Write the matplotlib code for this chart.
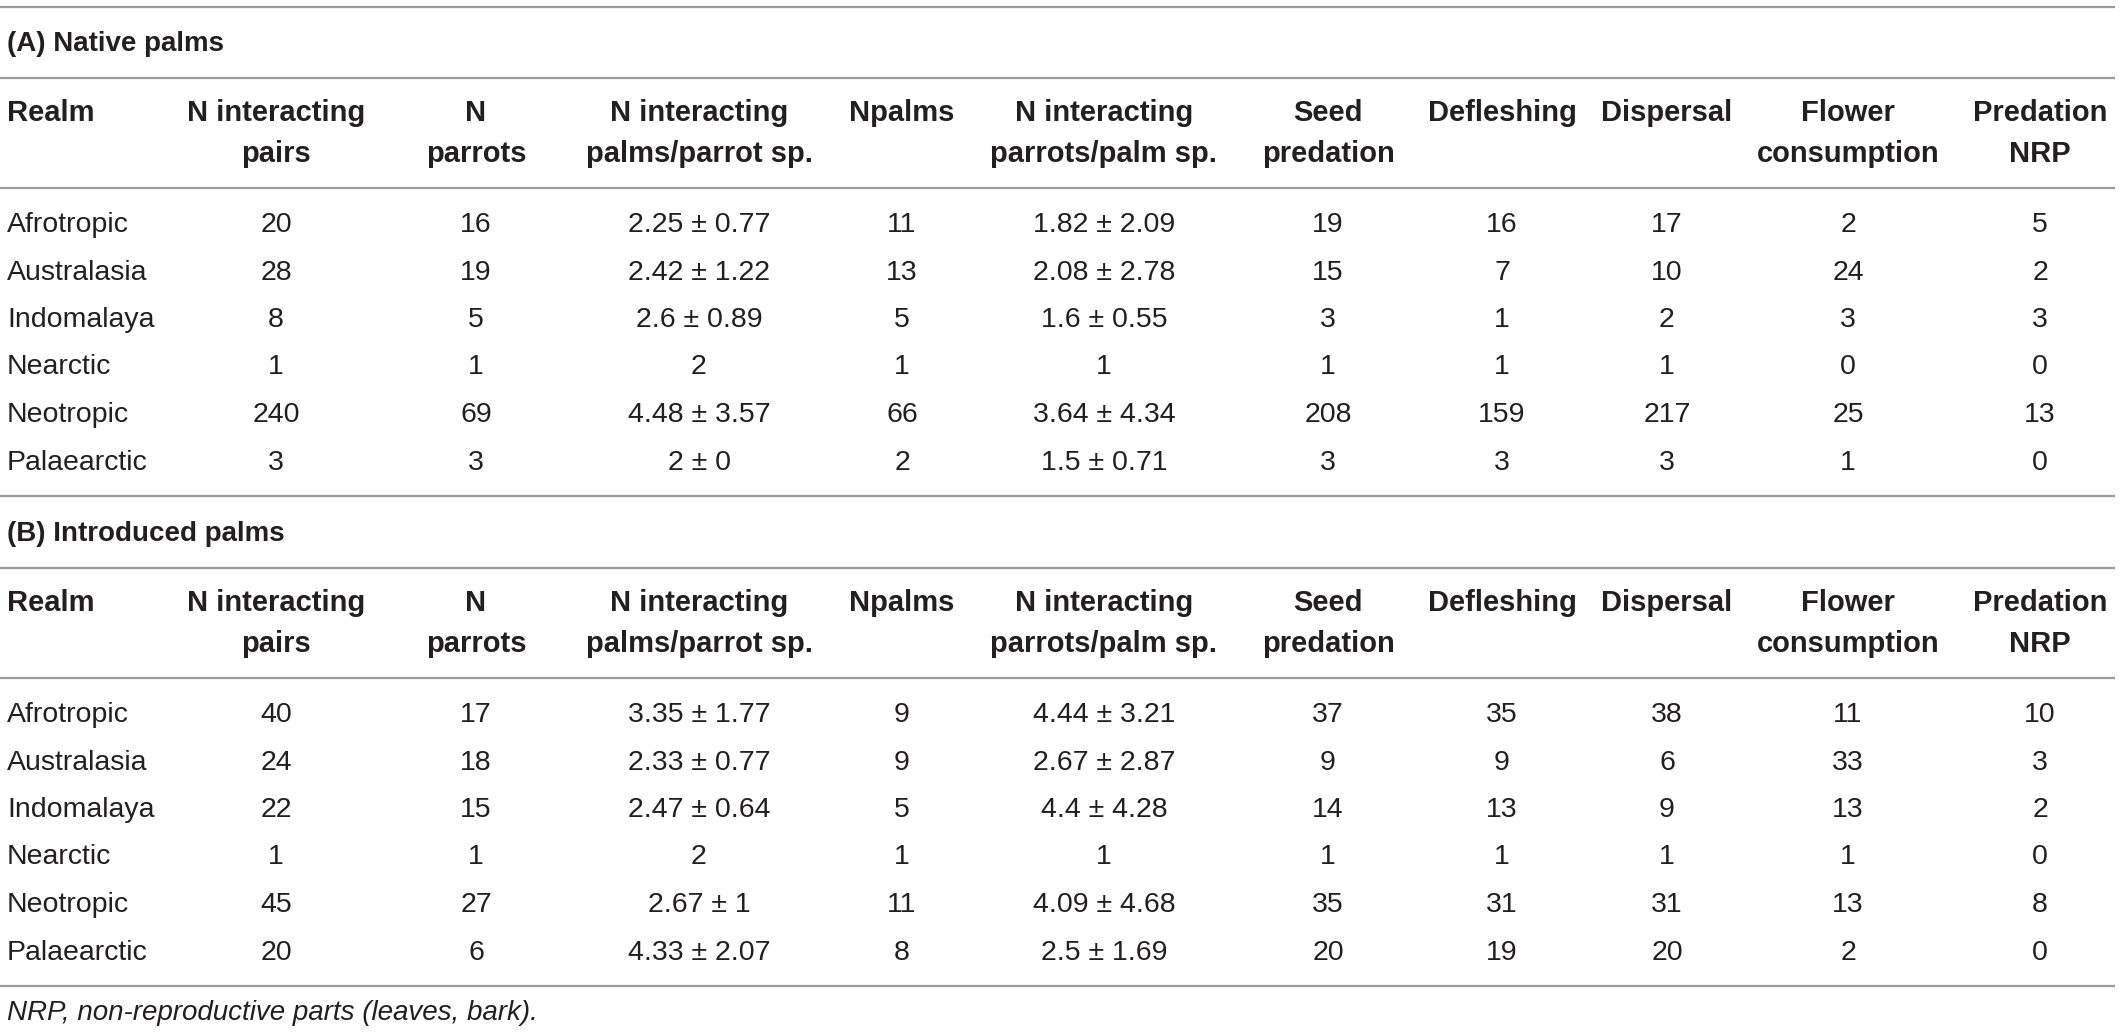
import matplotlib
matplotlib.use('Agg')
import matplotlib.pyplot as plt

plt.rcParams['font.family'] = ['Liberation Sans', 'DejaVu Sans']

# Table content
realms = ['Afrotropic', 'Australasia', 'Indomalaya', 'Nearctic', 'Neotropic', 'Palaearctic']
headers = [
    ['Realm'],
    ['N interacting', 'pairs'],
    ['N', 'parrots'],
    ['N interacting', 'palms/parrot sp.'],
    ['Npalms'],
    ['N interacting', 'parrots/palm sp.'],
    ['Seed', 'predation'],
    ['Defleshing'],
    ['Dispersal'],
    ['Flower', 'consumption'],
    ['Predation', 'NRP'],
]

native_pairs = [20, 28, 8, 1, 240, 3]
native_parrots = [16, 19, 5, 1, 69, 3]
native_palms_per_parrot = ['2.25 ± 0.77', '2.42 ± 1.22', '2.6 ± 0.89', '2', '4.48 ± 3.57', '2 ± 0']
native_npalms = [11, 13, 5, 1, 66, 2]
native_parrots_per_palm = ['1.82 ± 2.09', '2.08 ± 2.78', '1.6 ± 0.55', '1', '3.64 ± 4.34', '1.5 ± 0.71']
native_seed = [19, 15, 3, 1, 208, 3]
native_deflesh = [16, 7, 1, 1, 159, 3]
native_dispersal = [17, 10, 2, 1, 217, 3]
native_flower = [2, 24, 3, 0, 25, 1]
native_nrp = [5, 2, 3, 0, 13, 0]

intro_pairs = [40, 24, 22, 1, 45, 20]
intro_parrots = [17, 18, 15, 1, 27, 6]
intro_palms_per_parrot = ['3.35 ± 1.77', '2.33 ± 0.77', '2.47 ± 0.64', '2', '2.67 ± 1', '4.33 ± 2.07']
intro_npalms = [9, 9, 5, 1, 11, 8]
intro_parrots_per_palm = ['4.44 ± 3.21', '2.67 ± 2.87', '4.4 ± 4.28', '1', '4.09 ± 4.68', '2.5 ± 1.69']
intro_seed = [37, 9, 14, 1, 35, 20]
intro_deflesh = [35, 9, 13, 1, 31, 19]
intro_dispersal = [38, 6, 9, 1, 31, 20]
intro_flower = [11, 33, 13, 1, 13, 2]
intro_nrp = [10, 3, 2, 0, 8, 0]

native_cols = [realms, native_pairs, native_parrots, native_palms_per_parrot, native_npalms,
               native_parrots_per_palm, native_seed, native_deflesh, native_dispersal,
               native_flower, native_nrp]
intro_cols = [realms, intro_pairs, intro_parrots, intro_palms_per_parrot, intro_npalms,
              intro_parrots_per_palm, intro_seed, intro_deflesh, intro_dispersal,
              intro_flower, intro_nrp]

sections = [('(A) Native palms', native_cols), ('(B) Introduced palms', intro_cols)]
footnote = 'NRP, non-reproductive parts (leaves, bark).'

# Layout (pixels)
W, H = 2120, 1033
col_x = [7, 276, 476, 699, 902, 1104, 1328, 1502, 1667, 1848, 2040]
fs_title = 20
fs_head = 21
fs_body = 20.5
line_color = '#9a9a9a'
text_color = '#231f20'
row_h = 47.5
head_gap = 41

fig = plt.figure(figsize=(W / 100, H / 100), dpi=100)
ax = fig.add_axes([0, 0, 1, 1])
ax.set_xlim(0, W)
ax.set_ylim(H, 0)
ax.axis('off')


def hline(y):
    ax.plot([0, W - 5], [y, y], color=line_color, lw=1.6, solid_capstyle='butt')


hline(7)
section_tops = [7, 497]
for (title, cols), top in zip(sections, section_tops):
    ax.text(7, top + 37, title, fontsize=fs_title, fontweight='bold', color=text_color,
            ha='left', va='center')
    hline(top + 71)
    hy = top + 106
    for j, lines in enumerate(headers):
        for k, txt in enumerate(lines):
            ax.text(col_x[j], hy + k * head_gap, txt, fontsize=fs_head, fontweight='bold',
                    color=text_color, ha='left' if j == 0 else 'center', va='center')
    hline(top + 181)
    ry = top + 218
    for j, values in enumerate(cols):
        for i, v in enumerate(values):
            ax.text(col_x[j], ry + i * row_h, str(v), fontsize=fs_body, color=text_color,
                    ha='left' if j == 0 else 'center', va='center')
    hline(top + 218 + 5 * row_h + 33)

ax.text(7, 1013, footnote, fontsize=20, fontstyle='italic', color=text_color,
        ha='left', va='center')

fig.savefig('out.png', dpi=100)
